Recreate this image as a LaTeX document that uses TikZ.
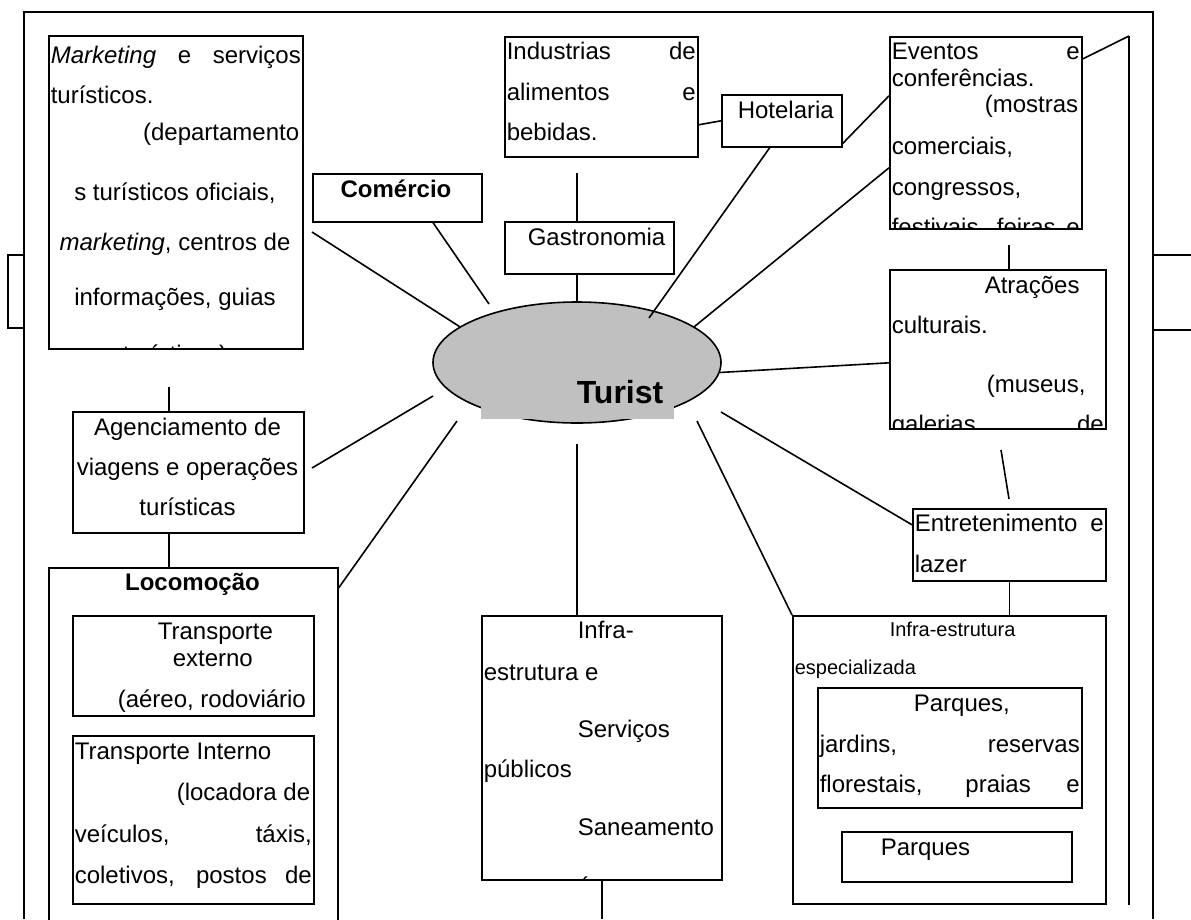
\documentclass[tikz,border=0pt]{standalone}
\usepackage{fontspec}
\setmainfont{Liberation Sans}
\usetikzlibrary{shapes.geometric}
\definecolor{ovalgray}{HTML}{C0C0C0}
\tikzset{
	caixa/.style 2 args={draw, anchor=north west, inner sep=0pt, minimum width=#1pt, minimum height=#2pt},
	lin/.style={inner sep=0pt, anchor=base west, font=\fontsize{24}{28}\selectfont},
	linc/.style={lin, anchor=base},
	lind/.style={lin, anchor=base east},
	lpeq/.style={lin, font=\fontsize{20}{24}\selectfont},
}
\begin{document}
\begin{tikzpicture}[x=1pt, y=-1pt, line width=1.6pt]
			\useasboundingbox (0,0) rectangle (1191,919);
			\clip (0,0) rectangle (1191,919);
			\coordinate (fundo) at (0,919);
			\coordinate (trilho) at (1129,36);
			% moldura
			\draw (24,919) -- (24,12) -- (1153,12) -- (1153,919);
			\draw (1153,255) -- (1191,255);
			\draw (1153,330) -- (1191,330);
			\draw (24,255) -- (8,255) -- (8,328) -- (24,328);
			\draw (trilho) -- (1129,905);
			% oval central
			\node[draw, ellipse, fill=ovalgray, inner sep=0pt, minimum width=288pt, minimum height=121pt] (oval) at (577,362.5) {};
			\node[fill=ovalgray, anchor=south west, inner sep=0pt, minimum width=193pt, minimum height=50pt] (tbg) at (480,420) {};
			\node[lin, font=\bfseries\fontsize{32}{36}\selectfont] (tur) at (576,403) {Turist};
			% caixas
			\node[caixa={254}{313}] (mkt) at (48,35) {};
			\node[caixa={169}{48}] (com) at (312,173) {};
			\node[caixa={193}{120}] (ind) at (504,36) {};
			\node[caixa={169}{52}] (gas) at (504,221) {};
			\node[caixa={120}{52}] (hot) at (721,94) {};
			\node[caixa={192}{192}] (evt) at (889,36) {};
			\node[caixa={216}{159}] (atr) at (889,269) {};
			\node[caixa={193}{72}] (ent) at (912,508) {};
			\node[caixa={313}{288}] (ies) at (792,615) {};
			\node[caixa={264}{120}] (pq1) at (817,687) {};
			\node[caixa={230}{50}] (pq2) at (841,831) {};
			\node[caixa={240}{264}] (isp) at (481,615) {};
			\node[caixa={231}{121}] (age) at (72,411) {};
			\node[caixa={289}{360}] (loc) at (48,567) {};
			\node[caixa={241}{100}] (tex) at (72,615) {};
			\node[caixa={241}{168}] (tin) at (72,735) {};
			% textos
			\node[lin] (m1) at (50,63) {\makebox[250pt][s]{\textit{Marketing} e serviços}};
			\node[lin] (m2) at (50,103) {turísticos.};
			\node[lind] (m3) at (300,140) {(departamento};
			\node[linc] (m4) at (175,200) {s turísticos oficiais,};
			\node[linc] (m5) at (175,250) {\textit{marketing}, centros de};
			\node[linc] (m6) at (175,305) {informações, guias};
			\begin{scope}
				\clip (mkt.north west) rectangle (mkt.south east);
				\node[linc] (m7) at (175,362) {turísticos)};
			\end{scope}
			\node[linc, font=\bfseries\fontsize{24}{28}\selectfont] (c1) at (396,197) {Comércio};
			\node[lin] (i1) at (506,59) {\makebox[189pt][s]{Industrias de}};
			\node[lin] (i2) at (506,100) {\makebox[189pt][s]{alimentos e}};
			\node[lin] (i3) at (506,140) {bebidas.};
			\node[lin] (g1) at (527,245) {Gastronomia};
			\node[lin] (h1) at (737,118) {Hotelaria};
			\node[lin] (e1) at (891,59) {\makebox[188pt][s]{Eventos e}};
			\node[lin] (e2) at (891,86) {conferências.};
			\node[lind] (e3) at (1079,112) {(mostras};
			\node[lin] (e4) at (891,154) {comerciais,};
			\node[lin] (e5) at (891,195) {congressos,};
			\begin{scope}
				\clip (evt.north west) rectangle (evt.south east);
				\node[lin] (e6) at (891,235) {\makebox[188pt][s]{festivais, feiras e}};
			\end{scope}
			\node[lin] (a1) at (984,293) {Atrações};
			\node[lin] (a2) at (891,333) {culturais.};
			\node[lin] (a3) at (986,392) {(museus,};
			\begin{scope}
				\clip (atr.north west) rectangle (atr.south east);
				\node[lin] (a4) at (891,432) {\makebox[212pt][s]{galerias de}};
			\end{scope}
			\node[lin] (n1) at (914,531) {\makebox[189pt][s]{Entretenimento e}};
			\node[lin] (n2) at (914,572) {lazer};
			\node[lpeq] (s1) at (889,636) {Infra-estrutura};
			\node[lpeq] (s2) at (794,674) {especializada};
			\node[lin] (p1) at (913,711) {Parques,};
			\node[lin] (p2) at (819,752) {\makebox[260pt][s]{jardins, reservas}};
			\node[lin] (p3) at (819,792) {\makebox[260pt][s]{florestais, praias e}};
			\node[lin] (p4) at (880,855) {Parques};
			\node[lin] (v1) at (577,638) {Infra-};
			\node[lin] (v2) at (483,680) {estrutura e};
			\node[lin] (v3) at (577,737) {Serviços};
			\node[lin] (v4) at (483,777) {públicos};
			\node[lin] (v5) at (577,835) {Saneamento};
			\begin{scope}
				\clip (isp.north west) rectangle (isp.south east);
				\node[lin] (v6) at (577,894) {á};
			\end{scope}
			\node[linc] (ag1) at (187.5,435) {Agenciamento de};
			\node[linc] (ag2) at (187.5,475) {viagens e operações};
			\node[linc] (ag3) at (187.5,515) {turísticas};
			\node[linc, font=\bfseries\fontsize{24}{28}\selectfont] (l0) at (192.5,590) {Locomoção};
			\node[lin] (t1) at (157,639) {Transporte};
			\node[lin] (t2) at (172,666) {externo};
			\node[lin] (t3) at (117,707) {(aéreo, rodoviário};
			\node[lin] (t4) at (74,759) {Transporte Interno};
			\node[lind] (t5) at (311,800) {(locadora de};
			\node[lin] (t6) at (74,842) {\makebox[237pt][s]{veículos, táxis,}};
			\node[lin] (t7) at (74,883) {\makebox[237pt][s]{coletivos, postos de}};
			% ligacoes
			\coordinate (mktA) at (312,232);
			\coordinate (mktB) at (169,387);
			\coordinate (comB) at (489,304);
			\coordinate (indB) at (577,173);
			\coordinate (hotB) at (649,318);
			\coordinate (evtB) at (1009,245);
			\coordinate (atrA) at (1001,450);
			\coordinate (atrB) at (1009,499);
			\coordinate (entA) at (721,412);
			\coordinate (iesA) at (697,421);
			\coordinate (ispA) at (577,444);
			\coordinate (locA) at (457,421);
			\coordinate (ageA) at (433,396);
			\coordinate (ageB) at (312,468);
			\draw (mktA) -- (oval.163);
			\draw ([xshift=121pt]com.south west) -- (comB);
			\draw (oval.north) -- (oval.north |- gas.south);
			\draw (indB) -- (indB |- gas.north);
			\draw ([yshift=-28pt]ind.east) -- (hot.west);
			\draw ([yshift=4pt]hot.south east) -- ([yshift=37pt]evt.west);
			\draw ([xshift=-12pt]hot.south) -- (hotB);
			\draw ([yshift=-35pt]evt.west) -- (oval.17);
			\draw ([yshift=-23pt]evt.north east) -- (trilho);
			\draw (evtB) -- (evtB |- atr.north);
			\draw (oval.-4) -- ([yshift=-13.5pt]atr.west);
			\draw (atrA) -- (atrB);
			\draw (entA) -- ([yshift=20pt]ent.west);
			\draw (ent.south) -- (ent.south |- ies.north);
			\draw (iesA) -- (ies.north west);
			\draw (ispA) -- (ispA |- isp.north);
			\draw (isp.south) -- (isp.south |- fundo);
			\draw (locA) -- ([yshift=-21pt]loc.north east);
			\draw (ageA) -- (ageB);
			\draw (mktB) -- (mktB |- age.north);
			\draw (age.south -| mktB) -- (loc.north -| mktB);
		\end{tikzpicture}
\end{document}
